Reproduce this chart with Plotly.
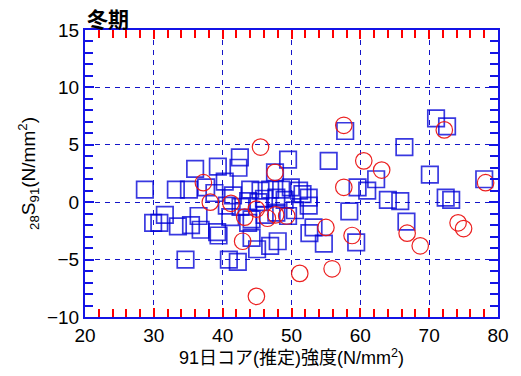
import plotly.graph_objects as go

# 28-day vs 91-day strength difference against estimated 91-day core strength (winter)
sq_x = [28.7, 33.2, 35.1, 36.0, 31.6, 29.9, 30.8, 33.5, 35.4, 36.8, 34.6,
        36.5, 37.6, 39.3, 42.5, 42.3, 40.3, 44.0, 46.9, 47.6, 48.5,
        40.6, 43.7, 45.2, 41.1, 43.7, 46.1, 47.8, 39.2, 39.4, 44.2, 45.0, 46.9, 48.0, 40.9, 42.2,
        49.5, 49.9, 51.1, 52.5, 52.5, 47.8, 49.5, 53.2, 52.6, 54.7, 55.4, 57.8, 59.6, 58.4, 59.4,
        61.0, 62.3, 64.0, 65.8, 66.4, 66.7, 70.1, 71.0, 72.6, 72.4, 73.2, 78.0,
        38.8, 41.5, 42.6, 45.5, 46.0, 49.0, 50.5, 51.6, 44.2]
sq_y = [1.1, 1.1, 1.1, 2.9, -1.1, -1.8, -1.8, -2.1, -2.0, -2.4, -5.0,
        -1.2, 1.3, 3.1, 3.9, 3.0, 1.8, 1.1, 1.1, 2.6, 1.1,
        -0.3, 0.1, 0.0, -1.3, -1.8, -1.1, -0.9, -2.6, -2.9, -3.1, -4.1, -3.8, -3.4, -5.0, -5.2,
        3.7, 1.3, 1.0, 0.4, -0.3, 0.4, -1.2, -2.2, -2.7, -3.6, 3.6, 6.2, 1.3, -0.8, -3.5,
        1.0, 2.0, 0.2, 0.1, 4.8, -1.7, 2.4, 7.3, 6.6, 0.4, 0.2, 2.0,
        0.8, 0.6, -0.4, 1.0, 0.3, 0.2, -0.7, 0.7, -1.5]

ci_x = [37.2, 38.2, 41.2, 43.2, 44.9, 46.5, 47.7, 49.3, 42.9, 44.9, 45.5, 47.6,
        57.6, 60.5, 57.6, 55.0, 58.8, 51.2, 55.9, 72.2, 63.1, 78.2, 66.8, 68.7, 74.2, 75.0]
ci_y = [1.7, 0.0, -0.1, -1.3, -0.6, -1.4, -1.1, -1.2, -3.4, -8.2, 4.8, 2.6,
        6.7, 3.6, 1.3, -2.2, -2.9, -6.2, -5.8, 6.3, 2.8, 1.7, -2.7, -3.8, -1.8, -2.3]

FONT = "Liberation Sans, Noto Sans CJK JP, sans-serif"
AXIS_BLUE = "rgb(20,20,230)"
GRID_BLUE = "rgb(20,20,200)"

fig = go.Figure()
fig.add_trace(go.Scatter(
    x=sq_x, y=sq_y, mode="markers",
    marker=dict(symbol="square-open", size=16.5,
                color="rgba(0,0,215,0.78)", line=dict(width=1.7)),
    showlegend=False, hoverinfo="skip"))
fig.add_trace(go.Scatter(
    x=ci_x, y=ci_y, mode="markers",
    marker=dict(symbol="circle-open", size=16.5,
                color="rgba(235,20,20,0.95)", line=dict(width=1.2)),
    showlegend=False, hoverinfo="skip"))

fig.update_xaxes(
    range=[20, 80], tick0=20, dtick=10, tickmode="linear",
    showline=True, linecolor=AXIS_BLUE, linewidth=2, mirror="allticks",
    ticks="inside", ticklen=9, tickwidth=2, tickcolor="red",
    showgrid=True, gridcolor=GRID_BLUE, gridwidth=1, griddash="5px,5px",
    zeroline=False,
    tickfont=dict(family=FONT, size=19, color="black"),
    minor=dict(dtick=2, ticks="inside", ticklen=8, tickcolor="red", tickwidth=2),
    title=dict(text="91日コア(推定)強度(N/mm<sup>2</sup>)",
               font=dict(family=FONT, size=18, color="black"), standoff=6),
)
fig.update_yaxes(
    range=[-10, 15], tick0=-10, dtick=5, tickmode="linear",
    showline=True, linecolor=AXIS_BLUE, linewidth=2, mirror="allticks",
    ticks="inside", ticklen=9, tickwidth=2, tickcolor=AXIS_BLUE,
    showgrid=True, gridcolor=GRID_BLUE, gridwidth=1, griddash="5px,5px",
    zeroline=False,
    tickfont=dict(family=FONT, size=19, color="black"),
    minor=dict(dtick=1, ticks="inside", ticklen=8, tickcolor=AXIS_BLUE, tickwidth=2),
    title=dict(text="<sub>28</sub>S<sub>91</sub>(N/mm<sup>2</sup>)",
               font=dict(family=FONT, size=19, color="black"), standoff=6),
)
fig.update_layout(
    width=521, height=376,
    margin=dict(l=85, r=19, t=30, b=58),
    plot_bgcolor="white", paper_bgcolor="white",
    annotations=[dict(
        text="<b>冬期</b>", xref="paper", yref="paper", x=0.0, y=1.0,
        xanchor="left", yanchor="bottom", showarrow=False, yshift=-5,
        font=dict(family="Noto Sans CJK JP", size=21, color="black"))],
)
fig.write_html("out.html")
